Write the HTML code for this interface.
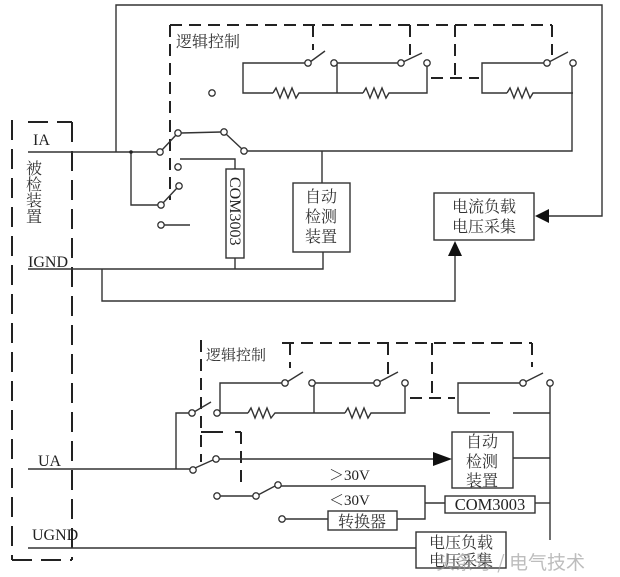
<!DOCTYPE html>
<html><head><meta charset="utf-8">
<style>
html,body{margin:0;padding:0;background:#fff;}
svg{display:block;}
.s{font-family:"Liberation Serif","Noto Serif CJK SC",serif;fill:#222;}
.c{font-family:"Liberation Serif","Noto Serif CJK SC",serif;fill:#333;}
</style></head>
<body>
<svg width="620" height="577" viewBox="0 0 620 577" xmlns="http://www.w3.org/2000/svg">
<rect width="620" height="577" fill="#fff"/>
<!-- left dashed box -->
<g fill="none" stroke="#222" stroke-width="2" stroke-dasharray="20 9">
  <line x1="12" y1="120" x2="12" y2="560"/>
  <line x1="72" y1="122" x2="72" y2="560"/>
  <line x1="28" y1="122" x2="72" y2="122"/>
  <line x1="12" y1="560" x2="72" y2="560"/>
</g>
<!-- top logic dashed -->
<g fill="none" stroke="#222" stroke-width="2" stroke-dasharray="12 7">
  <line x1="170" y1="25" x2="170" y2="200"/>
  <line x1="170" y1="25" x2="552" y2="25"/>
  <line x1="313" y1="25" x2="313" y2="50"/>
  <line x1="410" y1="25" x2="410" y2="55"/>
  <line x1="455" y1="25" x2="455" y2="76"/>
  <line x1="431" y1="78" x2="479" y2="78"/>
  <line x1="552" y1="25" x2="552" y2="55"/>
</g>
<!-- bottom logic dashed -->
<g fill="none" stroke="#222" stroke-width="2" stroke-dasharray="12 7">
  <line x1="201" y1="340" x2="201" y2="462"/>
  <line x1="282" y1="343" x2="532" y2="343"/>
  <line x1="290" y1="343" x2="290" y2="368"/>
  <line x1="388" y1="343" x2="388" y2="375"/>
  <line x1="432" y1="343" x2="432" y2="396"/>
  <line x1="410" y1="398" x2="455" y2="398"/>
  <line x1="532" y1="343" x2="532" y2="367"/>
  <line x1="241" y1="432" x2="241" y2="486"/>
</g>
<g stroke="#222" stroke-width="2" fill="none">
  <polyline points="201,432 223,432"/>
  <polyline points="235,432 241,432"/>
</g>

<!-- wires -->
<g fill="none" stroke="#333" stroke-width="1.4">
  <polyline points="116,152 116,5 602,5 602,216 548,216"/>
  <line x1="28" y1="152" x2="157" y2="152"/>
  <polyline points="131,152 131,205 158,205"/>
  <line x1="163" y1="203" x2="177" y2="188"/>
  <line x1="162" y1="150" x2="176" y2="135"/>
  <line x1="181" y1="133" x2="221" y2="132"/>
  <line x1="226" y1="134" x2="242" y2="149"/>
  <polyline points="247,151 572,151 572,66"/>
  <line x1="322" y1="151" x2="322" y2="183"/>
  <polyline points="180,159 235,159 235,169"/>
  <line x1="235" y1="258" x2="235" y2="269"/>
  <line x1="164" y1="225" x2="190" y2="225"/>
  <polyline points="28,269 323,269 323,252"/>
  <polyline points="102,269 102,301 455,301 455,254"/>
  <!-- top branches -->
  <polyline points="305,63 243,63 243,93 273,93"/>
  <polyline points="273,93 276,88 280,98 284,88 288,98 292,88 296,98 299,93 302,93 337,93"/>
  <line x1="310" y1="62" x2="325" y2="51"/>
  <polyline points="337,63 398,63"/>
  <line x1="337" y1="63" x2="337" y2="93"/>
  <line x1="337" y1="93" x2="363" y2="93"/>
  <polyline points="363,93 366,88 370,98 374,88 378,98 382,88 386,98 389,93 393,93 427,93 427,66"/>
  <line x1="403" y1="62" x2="422" y2="53"/>
  <polyline points="544,63 482,63 482,93 507,93"/>
  <polyline points="507,93 510,88 514,98 518,88 522,98 526,88 530,98 533,93 537,93 573,93"/>
  <line x1="549" y1="62" x2="568" y2="52"/>
  <!-- bottom -->
  <line x1="28" y1="469" x2="190" y2="469"/>
  <polyline points="176,469 176,413 189,413"/>
  <line x1="194" y1="412" x2="211" y2="402"/>
  <polyline points="220,413 248,413"/>
  <polyline points="248,413 251,408 255,418 259,408 263,418 267,408 271,418 275,413 278,413 345,413"/>
  <polyline points="345,413 348,408 352,418 356,408 360,418 364,408 368,418 371,413 373,413 405,413 405,386"/>
  <polyline points="220,413 220,383 282,383"/>
  <line x1="287" y1="382" x2="303" y2="372"/>
  <polyline points="314,383 374,383"/>
  <line x1="314" y1="383" x2="314" y2="413"/>
  <line x1="379" y1="382" x2="398" y2="372"/>
  <polyline points="520,383 458,383 458,413 490,413"/>
  <line x1="513" y1="413" x2="550" y2="413"/>
  <line x1="525" y1="382" x2="543" y2="373"/>
  <line x1="550" y1="386" x2="550" y2="540"/>
  <line x1="195" y1="468" x2="213" y2="460"/>
  <line x1="219" y1="459" x2="434" y2="459"/>
  <line x1="513" y1="458" x2="550" y2="458"/>
  <line x1="220" y1="496" x2="253" y2="496"/>
  <line x1="258" y1="495" x2="275" y2="486"/>
  <polyline points="281,486 425,486 425,519 397,519"/>
  <line x1="425" y1="503" x2="445" y2="503"/>
  <line x1="535" y1="503" x2="550" y2="503"/>
  <line x1="285" y1="519" x2="328" y2="519"/>
  <line x1="28" y1="548" x2="416" y2="548"/>
</g>
<!-- junction dot -->
<circle cx="131" cy="152" r="1.8" fill="#222"/>
<!-- arrows -->
<polygon points="535,216 549,209 549,223" fill="#111"/>
<polygon points="455,241 448,256 462,256" fill="#111"/>
<polygon points="452,459 433,452 433,466" fill="#111"/>
<!-- circles -->
<g fill="#fff" stroke="#333" stroke-width="1.3">
  <circle cx="160" cy="152" r="3.2"/>
  <circle cx="178" cy="133" r="3.2"/>
  <circle cx="224" cy="132" r="3.2"/>
  <circle cx="244" cy="151" r="3.2"/>
  <circle cx="178" cy="167" r="3.2"/>
  <circle cx="161" cy="205" r="3.2"/>
  <circle cx="179" cy="186" r="3.2"/>
  <circle cx="161" cy="225" r="3.2"/>
  <circle cx="212" cy="93" r="3.2"/>
  <circle cx="308" cy="63" r="3.2"/>
  <circle cx="334" cy="63" r="3.2"/>
  <circle cx="401" cy="63" r="3.2"/>
  <circle cx="427" cy="63" r="3.2"/>
  <circle cx="547" cy="63" r="3.2"/>
  <circle cx="573" cy="63" r="3.2"/>
  <circle cx="192" cy="413" r="3.2"/>
  <circle cx="217" cy="413" r="3.2"/>
  <circle cx="285" cy="383" r="3.2"/>
  <circle cx="312" cy="383" r="3.2"/>
  <circle cx="377" cy="383" r="3.2"/>
  <circle cx="405" cy="383" r="3.2"/>
  <circle cx="523" cy="383" r="3.2"/>
  <circle cx="550" cy="383" r="3.2"/>
  <circle cx="193" cy="470" r="3.2"/>
  <circle cx="216" cy="459" r="3.2"/>
  <circle cx="217" cy="496" r="3.2"/>
  <circle cx="256" cy="496" r="3.2"/>
  <circle cx="278" cy="485" r="3.2"/>
  <circle cx="282" cy="519" r="3.2"/>
</g>
<!-- boxes -->
<g fill="#fff" stroke="#333" stroke-width="1.4">
  <rect x="226" y="169" width="18" height="89"/>
  <rect x="293" y="183" width="57" height="69"/>
  <rect x="434" y="193" width="100" height="47"/>
  <rect x="452" y="432" width="61" height="56"/>
  <rect x="445" y="496" width="90" height="17"/>
  <rect x="328" y="511" width="69" height="19"/>
  <rect x="416" y="532" width="90" height="36"/>
</g>
<!-- text -->
<text class="s" x="33" y="145" font-size="16">IA</text>
<text class="s" x="28" y="267" font-size="16">IGND</text>
<text class="s" x="38" y="466" font-size="16">UA</text>
<text class="s" x="32" y="540" font-size="16">UGND</text>
<g class="c" font-size="16">
  <text x="26" y="174">被</text>
  <text x="26" y="190">检</text>
  <text x="26" y="206">装</text>
  <text x="26" y="222">置</text>
</g>
<text class="c" x="176" y="47" font-size="16">逻辑控制</text>
<text class="c" x="206" y="360" font-size="15">逻辑控制</text>
<text class="s" font-size="16" transform="translate(230,177) rotate(90)">COM3003</text>
<g class="c" font-size="16" text-anchor="middle">
  <text x="321" y="202">自动</text>
  <text x="321" y="222">检测</text>
  <text x="321" y="242">装置</text>
  <text x="484" y="212">电流负载</text>
  <text x="484" y="232">电压采集</text>
  <text x="482" y="447">自动</text>
  <text x="482" y="467">检测</text>
  <text x="482" y="486">装置</text>
  <text x="362" y="527">转换器</text>
  <text x="461" y="548">电压负载</text>
  <text x="461" y="566">电压采集</text>
</g>
<text class="s" x="490" y="510" font-size="16.5" text-anchor="middle">COM3003</text>
<text class="s" x="329" y="480" font-size="15">＞30V</text>
<text class="s" x="329" y="505" font-size="15">＜30V</text>
<!-- watermark -->
<text x="436" y="569" font-size="19" fill="#999" fill-opacity="0.65" font-family="'Noto Sans CJK SC',sans-serif">头条号 / 电气技术</text>
</svg>
</body></html>
